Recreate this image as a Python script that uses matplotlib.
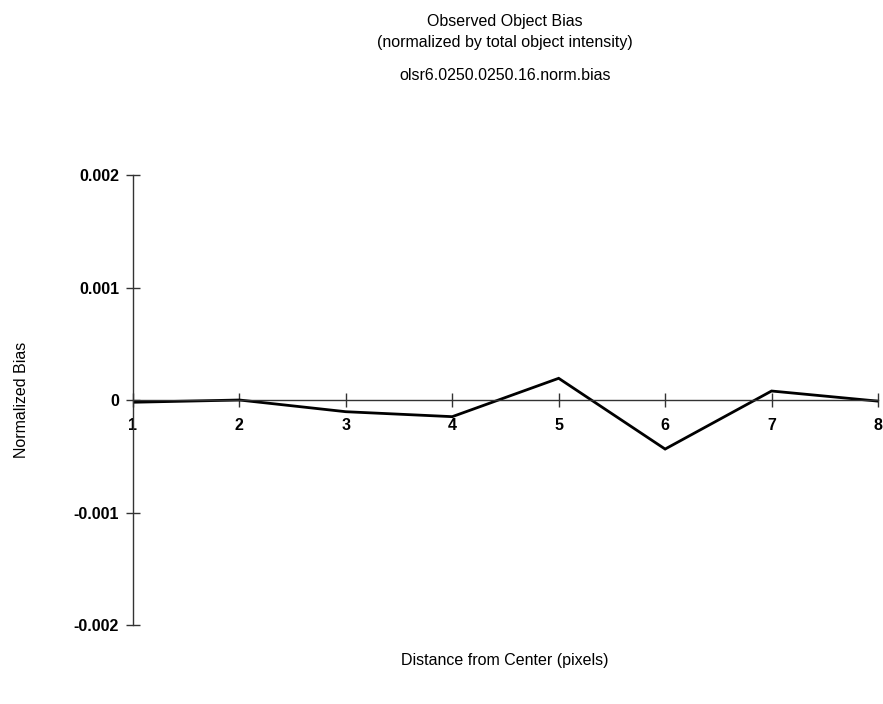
import matplotlib
matplotlib.use("Agg")
import matplotlib.pyplot as plt
from matplotlib.ticker import FixedLocator, FixedFormatter

plt.rcParams['font.family'] = ['Liberation Sans', 'DejaVu Sans']

# normalized bias vs. distance from centre
distance = [1, 2, 3, 4, 5, 6, 7, 8]
norm_bias = [-0.00002, 0.0, -0.000104, -0.000148, 0.000193, -0.000436, 0.00008, -0.00001]

x_ticks = [1, 2, 3, 4, 5, 6, 7, 8]
y_ticks = [-0.002, -0.001, 0, 0.001, 0.002]
y_tick_labels = ['-0.002', '-0.001', '0', '0.001', '0.002']

fig = plt.figure(figsize=(8.83, 7.04), dpi=100)
ax = fig.add_axes([0.1506, 0.1122, 0.8437, 0.6392])

ax.plot(distance, norm_bias, color='black', lw=2.0, solid_joinstyle='miter')

ax.set_xlim(1, 8)
ax.set_ylim(-0.002, 0.002)

# axes cross at (1, 0), like the original plotting package
ax.spines['left'].set_position(('data', 1))
ax.spines['bottom'].set_position(('data', 0))
ax.spines['top'].set_visible(False)
ax.spines['right'].set_visible(False)
for s in ('left', 'bottom'):
    ax.spines[s].set_color('#333333')
    ax.spines[s].set_linewidth(1.0)

ax.xaxis.set_major_locator(FixedLocator(x_ticks))
ax.yaxis.set_major_locator(FixedLocator(y_ticks))
ax.yaxis.set_major_formatter(FixedFormatter(y_tick_labels))
ax.tick_params(axis='both', direction='inout', length=10, width=1.0,
               color='#333333', labelsize=11.5)
ax.tick_params(axis='x', pad=8)
ax.tick_params(axis='y', pad=5)
for lab in ax.get_xticklabels() + ax.get_yticklabels():
    lab.set_fontweight('bold')

fig.text(0.572, 0.970, 'Observed Object Bias', ha='center', va='center', fontsize=11.5)
fig.text(0.572, 0.940, '(normalized by total object intensity)', ha='center', va='center', fontsize=11.5)
fig.text(0.572, 0.893, 'olsr6.0250.0250.16.norm.bias', ha='center', va='center', fontsize=11.5)
fig.text(0.572, 0.062, 'Distance from Center (pixels)', ha='center', va='center', fontsize=11.5)
fig.text(0.024, 0.432, 'Normalized Bias', ha='center', va='center', rotation=90, fontsize=11.5)

fig.savefig('out.png', dpi=100, facecolor='white')
